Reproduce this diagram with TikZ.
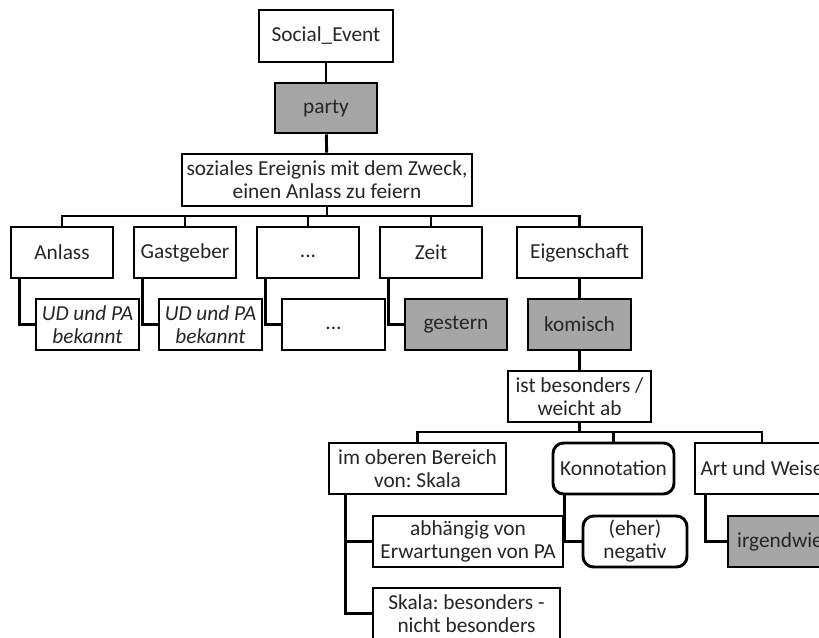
\documentclass[tikz,border=0pt]{standalone}
\usepackage{fontspec}
\setmainfont{Carlito}
\frenchspacing
\begin{document}
\begin{tikzpicture}[x=0.75pt,y=-0.75pt,
  every node/.style={font=\fontsize{16}{17.25}\selectfont, text=black!85},
  box/.style={draw, line width=2.2pt, inner sep=0pt, align=center, fill=white},
  grey/.style={box, fill=black!35},
  round/.style={box, rounded corners=8pt},
  sz/.style 2 args={minimum width=#1*0.75pt, minimum height=#2*0.75pt},
  link/.style={line width=2.2pt}]
\path[use as bounding box] (0,0) rectangle (819,637);
\clip (0,0) rectangle (819,637);

% top chain
\node[box, sz={134}{52}] (se) at (326,36) {Social\_Event};
\node[grey, sz={102}{50}] (party) at (326,108) {party};
\node[box, sz={290}{52}] (soz) at (327,180) {soziales Ereignis mit dem Zweck,\\einen Anlass zu feiern};

% roles
\node[box, sz={102}{51}] (anlass) at (62,252.5) {Anlass};
\node[box, sz={102}{51}] (gast) at (185,252.5) {Gastgeber};
\node[box, sz={102}{51}] (dotsA) at (308,252.5) {\vphantom{Ag}...};
\node[box, sz={102}{51}] (zeit) at (431,252.5) {Zeit};
\node[box, sz={125}{51}] (eig) at (579.5,252.5) {Eigenschaft};

% fillers
\node[box, sz={103}{51}] (udA) at (87.5,324.5) {\itshape UD und PA\\\itshape bekannt};
\node[box, sz={103}{51}] (udB) at (210.5,324.5) {\itshape UD und PA\\\itshape bekannt};
\node[box, sz={103}{51}] (dotsB) at (333.5,324.5) {\vphantom{Ag}...};
\node[grey, sz={102}{51}] (gestern) at (456,324.5) {gestern};
\node[grey, sz={103}{51}] (komisch) at (579.5,324.5) {komisch};

% meaning of komisch
\node[box, sz={143}{51}] (ist) at (579.5,396.5) {ist besonders /\\weicht ab};
\node[box, sz={177}{51}] (oberen) at (417.5,468.5) {im oberen Bereich\\von: Skala};
\node[round, sz={121}{51}] (konn) at (613.5,468.5) {Konnotation};
\node[box, sz={134}{51}] (art) at (762,468.5) {Art und Weise};
\node[box, sz={190}{51}] (abh) at (468,541.5) {abhängig von\\Erwartungen von PA};
\node[round, sz={104}{51}] (eher) at (635,541.5) {(eher)\\negativ};
\node[grey, sz={104}{51}] (irg) at (780,541.5) {irgendwie};
\node[box, sz={187}{51}] (skala) at (466.5,613.5) {Skala: besonders -\\nicht besonders};

% connectors
\draw[link] (se) -- (party);
\draw[link] (party) -- (soz);
\coordinate (busA) at (327,216);
\draw[link] (soz.south) -- (busA);
\draw[link] (anlass.north) |- (busA) -| (eig.north);
\draw[link] (gast.north) -- (gast.north |- busA);
\draw[link] (dotsA.north) -- (dotsA.north |- busA);
\draw[link] (zeit.north) -- (zeit.north |- busA);

\draw[link] ([xshift=7.5pt]anlass.south west) |- (udA.west);
\draw[link] ([xshift=7.5pt]gast.south west) |- (udB.west);
\draw[link] ([xshift=7.5pt]dotsA.south west) |- (dotsB.west);
\draw[link] ([xshift=7.5pt]zeit.south west) |- (gestern.west);
\draw[link] (eig) -- (komisch);
\draw[link] (komisch) -- (ist);

\coordinate (busB) at (579.5,432);
\draw[link] (ist.south) -- (busB);
\draw[link] (oberen.north) |- (busB) -| (art.north);
\draw[link] (konn.north) -- (konn.north |- busB);

\draw[link] ([xshift=13.5pt]oberen.south west) |- (skala.west);
\draw[link] ([xshift=13.5pt]oberen.south west |- abh.west) -- (abh.west);
\draw[link] ([xshift=9.75pt]konn.south west) |- (eher.west);
\draw[link] ([xshift=9pt]art.south west) |- (irg.west);
\end{tikzpicture}
\end{document}
